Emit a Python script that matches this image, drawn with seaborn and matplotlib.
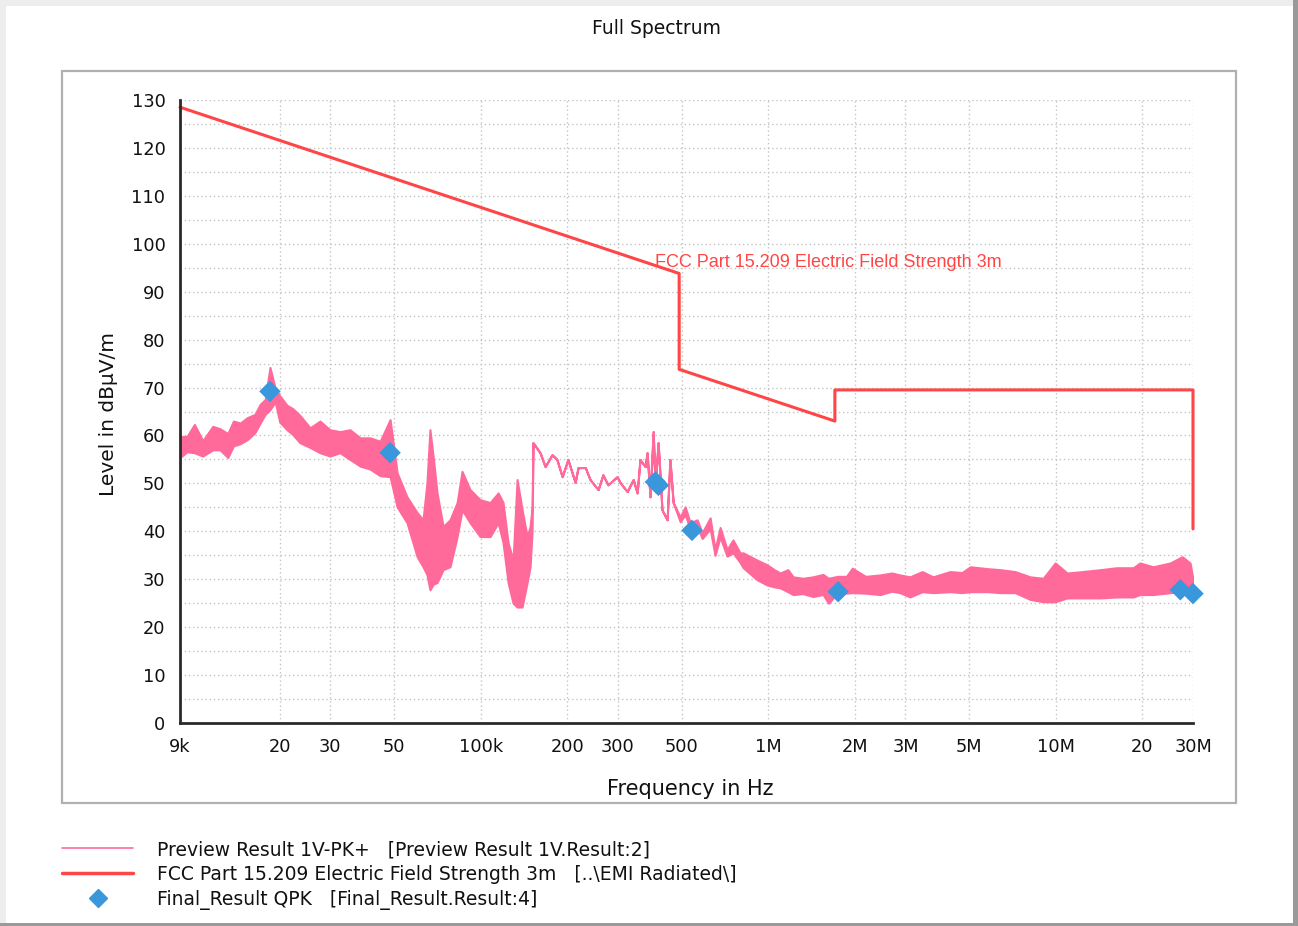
import matplotlib
matplotlib.use("Agg")
import matplotlib.pyplot as plt
import seaborn as sns
import numpy as np
from matplotlib.lines import Line2D
from matplotlib.patches import Rectangle
from matplotlib.ticker import FixedLocator, MultipleLocator, NullLocator

# ---------------- data ----------------
# Preview Result 1V-PK+ : frequency (kHz), upper and lower envelope (dBuV/m)
pk_freq_khz = [9.0, 9.52, 10.1, 10.8, 11.7, 12.4, 13.2, 13.8, 14.6, 15.4, 16.4, 17.1,
               17.8, 18.5, 19.3, 20.0, 21.2, 22.2, 23.5, 25.5, 27.6, 29.9, 32.4, 35.1,
               38.1, 41.2, 44.7, 48.4, 51.2, 55.4, 60.1, 63.0, 65.0, 66.6, 68.5, 70.5,
               74.0, 78.2, 82.8, 86.1, 91.8, 99.5, 107.8, 115.0, 119.6, 124.5, 129.6,
               133.8, 139.3, 145.0, 148.5, 150.9,
               152.0, 160.8, 167.5, 177.0, 184.0, 192.0, 201.0, 213.0, 218.0, 231.0,
               240.0, 256.0, 266.0, 277.0, 298.0, 305.0, 323.0, 339.0, 350.0, 358.0,
               373.0, 379.0, 388.0, 398.0, 404.0, 414.0, 427.0, 445.0, 455.0, 467.0,
               494.0, 514.0, 535.0, 566.0, 589.0, 628.0, 653.0, 680.0, 719.0, 754.0,
               798.0, 818.0, 914.0,
               991.0, 1050.0, 1100.0, 1170.0, 1220.0, 1320.0, 1430.0, 1550.0, 1620.0,
               1740.0, 1870.0, 1960.0, 2180.0, 2450.0, 2690.0,
               2870.0, 3110.0, 3430.0, 3740.0, 4290.0, 4720.0, 5040.0, 5810.0, 6400.0,
               7220.0, 8140.0, 9040.0, 9950.0, 10950.0, 12400.0, 14300.0, 16300.0,
               18600.0, 19600.0, 21800.0, 25000.0, 27500.0, 29300.0, 30000.0]
pk_upper = [59.8, 59.8, 62.3, 58.9, 61.9, 61.4, 60.4, 63.0, 62.6, 63.7, 64.4, 66.5,
            67.5, 74.2, 69.7, 68.3, 66.3, 65.6, 64.2, 61.6, 63.0, 61.2, 60.8, 61.2,
            59.5, 59.5, 58.8, 63.3, 52.2, 47.2, 43.9, 42.4, 50.0, 61.2, 55.0, 48.0,
            41.0, 42.4, 46.0, 52.5, 48.7, 46.6, 46.0, 48.0, 46.0, 37.6, 34.0,
            50.8, 44.5, 38.9, 41.0, 45.0,
            58.5, 56.4, 53.5, 56.0, 55.0, 51.4, 55.0, 50.2, 53.3, 53.3,
            50.8, 48.7, 51.8, 49.7, 51.4, 50.2, 48.3, 50.8, 48.0, 55.0,
            53.5, 56.4, 47.2, 60.8, 49.3, 58.5, 44.5, 42.4, 55.0, 46.0,
            43.0, 45.1, 41.8, 42.4, 39.7, 42.8, 36.2, 40.8, 36.2, 38.2,
            35.5, 35.5, 34.0,
            33.0, 32.0, 31.3, 32.0, 30.5, 30.2, 30.5, 31.0, 30.2,
            30.6, 30.6, 32.3, 30.6, 30.9, 31.3,
            30.9, 30.5, 31.6, 30.5, 31.6, 31.4, 32.6, 32.2, 32.0,
            31.6, 30.5, 30.2, 33.4, 31.3, 31.6, 32.0, 32.4,
            32.4, 33.4, 32.6, 33.4, 34.7, 33.4, 30.0]
pk_lower = [55.4, 56.6, 56.4, 55.7, 57.0, 57.0, 55.4, 57.8, 58.3, 59.1, 60.6, 62.6,
            64.4, 65.4, 67.0, 62.8, 61.2, 60.2, 58.5, 57.5, 56.4, 55.7, 56.4, 55.0,
            53.6, 53.0, 51.6, 51.4, 45.1, 41.8, 34.7, 32.6, 31.0, 27.8, 29.0, 29.3,
            32.0, 32.6, 38.9, 44.5, 41.8, 38.9, 38.9, 41.8, 37.6, 29.3, 25.0,
            24.2, 24.2, 29.3, 32.6, 40.0,
            58.5, 56.4, 53.5, 56.0, 55.0, 51.4, 55.0, 50.2, 53.3, 53.3,
            50.8, 48.7, 51.8, 49.7, 51.4, 50.2, 48.3, 50.8, 48.0, 55.0,
            53.5, 56.4, 47.2, 60.8, 49.3, 58.5, 44.5, 42.4, 55.0, 46.0,
            42.0, 43.5, 40.5, 41.0, 38.5, 40.5, 35.0, 38.8, 34.8, 35.5,
            33.5, 32.4, 29.9,
            28.8, 28.4, 28.2, 27.4, 26.8, 27.0, 26.4, 26.8, 25.0,
            27.1, 27.1, 27.2, 27.1, 26.8, 27.5,
            27.2, 26.3, 27.4, 27.2, 27.4, 27.2, 27.4, 27.4, 27.2,
            27.2, 25.8, 25.3, 25.3, 26.1, 26.1, 26.1, 26.3,
            26.3, 26.8, 26.8, 27.2, 27.4, 27.8, 28.0]

# FCC Part 15.209 limit line (Hz, dBuV/m)
lim_freq = [9e3, 490e3, 490e3, 1.705e6, 1.705e6, 30e6, 30e6]
lim_level = [128.5, 93.8, 73.8, 63.0, 69.5, 69.5, 40.5]

# Final_Result QPK (Hz, dBuV/m)
qpk_freq = [18.5e3, 48.4e3, 405e3, 415e3, 543e3, 1.75e6, 27.1e6, 30e6]
qpk_level = [69.2, 56.4, 50.3, 49.6, 40.2, 27.4, 27.8, 27.0]

xtick_pos = [9e3, 20e3, 30e3, 50e3, 100e3, 200e3, 300e3, 500e3, 1e6, 2e6, 3e6,
             5e6, 10e6, 20e6, 30e6]
xtick_labels = ["9k", "20", "30", "50", "100k", "200", "300", "500", "1M", "2M",
                "3M", "5M", "10M", "20", "30M"]

title = "Full Spectrum"
xlabel = "Frequency in Hz"
ylabel = "Level in dBµV/m"
limit_text = "FCC Part 15.209 Electric Field Strength 3m"
legend_labels = ["Preview Result 1V-PK+   [Preview Result 1V.Result:2]",
                 "FCC Part 15.209 Electric Field Strength 3m   [..\\EMI Radiated\\]",
                 "Final_Result QPK   [Final_Result.Result:4]"]

# ---------------- style ----------------
sns.set_style("white")
plt.rcParams["font.family"] = ["DejaVu Sans"]

PINK = "#ff6a9a"
RED = "#ff4545"
BLUE = "#3a97dc"
GRID = "#c4c4c4"
AX = "#2a2a2a"

fig = plt.figure(figsize=(12.98, 9.26), dpi=100)
W, H = 1298, 926
ax = fig.add_axes([180 / W, 1 - 723 / H, (1193 - 180) / W, (723 - 100) / H])

# figure borders
fig.patches.append(Rectangle((0, 1 - 6 / H), 1, 6 / H, transform=fig.transFigure,
                             facecolor="#ededed", edgecolor="none", zorder=0))
fig.patches.append(Rectangle((0, 0), 6 / W, 1, transform=fig.transFigure,
                             facecolor="#ededed", edgecolor="none", zorder=0))
fig.patches.append(Rectangle((1 - 5 / W, 0), 5 / W, 1, transform=fig.transFigure,
                             facecolor="#9a9a9a", edgecolor="none", zorder=0))
fig.patches.append(Rectangle((0, 0), 1, 3 / H, transform=fig.transFigure,
                             facecolor="#9a9a9a", edgecolor="none", zorder=0))
# inner frame
fig.patches.append(Rectangle((62 / W, 1 - 803 / H), (1236 - 62) / W, (803 - 71) / H,
                             transform=fig.transFigure, facecolor="none",
                             edgecolor="#b0b0b0", lw=1.6, zorder=0))

fpk = np.array(pk_freq_khz) * 1e3
ax.fill_between(fpk, pk_lower, pk_upper, color=PINK, lw=1.5, zorder=2)

sns.lineplot(x=lim_freq, y=lim_level, ax=ax, color=RED, lw=2.2, sort=False,
             estimator=None, zorder=3, clip_on=False)
sns.scatterplot(x=qpk_freq, y=qpk_level, ax=ax, marker="D", s=120, color=BLUE,
                edgecolor="none", zorder=4, clip_on=False)

ax.set_xscale("log")
ax.set_xlim(9e3, 30e6)
ax.set_ylim(0, 130)

ax.xaxis.set_major_locator(FixedLocator(xtick_pos))
ax.xaxis.set_minor_locator(NullLocator())
ax.set_xticklabels(xtick_labels)
ax.yaxis.set_major_locator(MultipleLocator(10))
ax.yaxis.set_minor_locator(MultipleLocator(5))

ax.grid(True, which="major", axis="x", color=GRID, ls=(0, (1, 2)), lw=1.0)
ax.grid(True, which="both", axis="y", color=GRID, ls=(0, (1, 2)), lw=1.0)
ax.set_axisbelow(True)

for s in ["top", "right"]:
    ax.spines[s].set_visible(False)
for s in ["left", "bottom"]:
    ax.spines[s].set_color(AX)
    ax.spines[s].set_linewidth(2.0)
    ax.spines[s].set_zorder(5)

ax.tick_params(axis="both", which="both", direction="inout", length=9, width=1.5,
               color=AX, labelsize=12.8, labelcolor="#111111", pad=6)

ax.set_xlabel(xlabel, fontsize=15, color="#111111")
ax.set_ylabel(ylabel, fontsize=14.5, color="#111111")
ax.xaxis.set_label_coords((690 - 180) / 1013, -(779 - 723) / 623)
ax.yaxis.set_label_coords(-(180 - 118) / 1013, (723 - 414) / 623)

ax.text(404e3, 96.1, limit_text, color=RED, fontsize=13, va="center", ha="left",
        family=["Liberation Sans", "DejaVu Sans"], zorder=6)

fig.text(657 / W, 1 - 28 / H, title, ha="center", va="center", fontsize=13.5,
         color="#111111")

handles = [Line2D([0], [0], color=PINK, lw=1.2),
           Line2D([0], [0], color=RED, lw=2.5),
           Line2D([0], [0], color=BLUE, marker="D", ls="none", markersize=9)]
leg = fig.legend(handles, legend_labels, loc="upper left",
                 bbox_to_anchor=(62 / W, 1 - 840 / H), frameon=False, fontsize=13.5,
                 handlelength=3.8, handletextpad=1.25, labelspacing=0.32,
                 borderpad=0, borderaxespad=0)
for t in leg.get_texts():
    t.set_color("#111111")

fig.savefig("out.png", dpi=100, facecolor="white")
